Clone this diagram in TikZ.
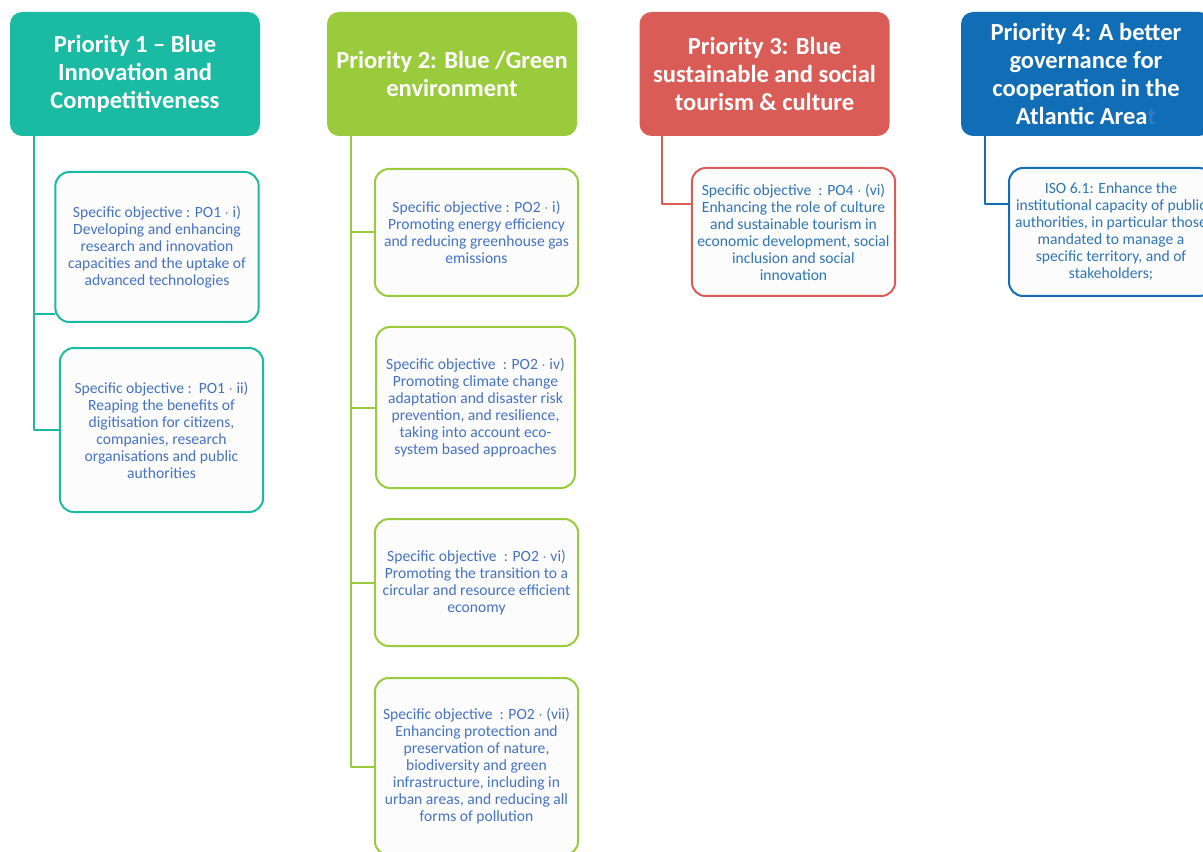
\documentclass[tikz,border=0pt]{standalone}
\usepackage{fontspec}
\setmainfont{Carlito}
\definecolor{pteal}{RGB}{27,186,163}
\definecolor{pgreen}{RGB}{154,203,60}
\definecolor{pred}{RGB}{218,92,86}
\definecolor{pblue}{RGB}{17,109,181}
\definecolor{sotext}{RGB}{68,114,196}
\definecolor{sotextb}{RGB}{46,117,182}
\definecolor{sofill}{RGB}{252,252,252}
\begin{document}
\begin{tikzpicture}[x=0.75pt,y=-0.75pt,line join=round,
	prio/.style={rounded corners=9pt,minimum width=187.5pt,minimum height=93pt,inner sep=0pt,align=center,text=white,font=\fontsize{18.4}{20.8}\selectfont\bfseries},
	spec/.style={draw,line width=1.5pt,rounded corners=10.5pt,fill=sofill,minimum width=152.5pt,inner sep=0pt,align=center,text=sotext,font=\fontsize{11.7}{12.75}\selectfont},
	link/.style={line width=1.5pt}]
	\useasboundingbox (0,0) rectangle (1203,852);
	\clip (0,0) rectangle (1203,852);
	% priority headers
	\node[prio,fill=pteal] (p1) at (135,74) {Priority 1 -- Blue\\Innovation and\\Competitiveness};
	\node[prio,fill=pgreen] (p2) at (452,74) {Priority 2: Blue /Green\\environment};
	\node[prio,fill=pred] (p3) at (764.5,74) {Priority 3: Blue\\sustainable and social\\tourism \& culture};
	\node[prio,fill=pblue] (p4) at (1086,74) {Priority 4: A better\\governance for\\cooperation in the\\Atlantic Area{\color{pblue!88!white}t}};
	% specific objectives
	\node[spec,draw=pteal,minimum height=112.5pt] (s11) at (157,247) {Specific objective : PO1 $\cdot$ i)\\Developing and enhancing\\research and innovation\\capacities and the uptake of\\advanced technologies};
	\node[spec,draw=pteal,minimum height=123pt] (s12) at (161.5,430) {Specific objective :\ \ PO1 $\cdot$ ii)\\Reaping the benefits of\\digitisation for citizens,\\companies, research\\organisations and public\\authorities};
	\node[spec,draw=pgreen,minimum height=95.25pt] (s21) at (476.5,232.5) {Specific objective : PO2 $\cdot$ i)\\Promoting energy efficiency\\and reducing greenhouse gas\\emissions};
	\node[spec,draw=pgreen,minimum width=149.25pt,minimum height=120.75pt] (s22) at (475.5,407.5) {Specific objective\ \ : PO2 $\cdot$ iv)\\Promoting climate change\\adaptation and disaster risk\\prevention, and resilience,\\taking into account eco-\\system based approaches};
	\node[spec,draw=pgreen,minimum height=95.25pt] (s23) at (476.5,582.5) {Specific objective\ \ : PO2 $\cdot$ vi)\\Promoting the transition to a\\circular and resource efficient\\economy};
	\node[spec,draw=pgreen,minimum height=132.75pt] (s24) at (476.5,766.5) {Specific objective\ \ : PO2 $\cdot$ (vii)\\Enhancing protection and\\preservation of nature,\\biodiversity and green\\infrastructure, including in\\urban areas, and reducing all\\forms of pollution};
	\node[spec,draw=pred,text=sotextb,minimum height=96pt] (s31) at (793.5,232) {Specific objective\ \ : PO4 $\cdot$ (vi)\\Enhancing the role of culture\\and sustainable tourism in\\economic development, social\\inclusion and social\\innovation};
	\node[spec,draw=pblue,text=sotextb,minimum width=153pt,minimum height=96pt] (s41) at (1111,232) {ISO 6.1: Enhance the\\institutional capacity of public\\authorities, in particular those\\mandated to manage a\\specific territory, and of\\stakeholders;};
	% trunk points
	\coordinate (t1) at (34,136);
	\coordinate (t2) at (351,136);
	\coordinate (t3) at (662,136);
	\coordinate (t4) at (985,136);
	\coordinate (j11) at (55,314);
	\coordinate (j31) at (692,204);
	\coordinate (j41) at (1009,204);
	% connectors
	\draw[link,pteal] (t1) |- (s12.west);
	\draw[link,pteal] (t1 |- j11) -- (j11);
	\draw[link,pgreen] (t2) |- (s24.west);
	\foreach \s in {s21,s22,s23} \draw[link,pgreen] (t2 |- \s.west) -- (\s.west);
	\draw[link,pred] (t3) |- (j31);
	\draw[link,pblue] (t4) |- (j41);
\end{tikzpicture}
\end{document}
